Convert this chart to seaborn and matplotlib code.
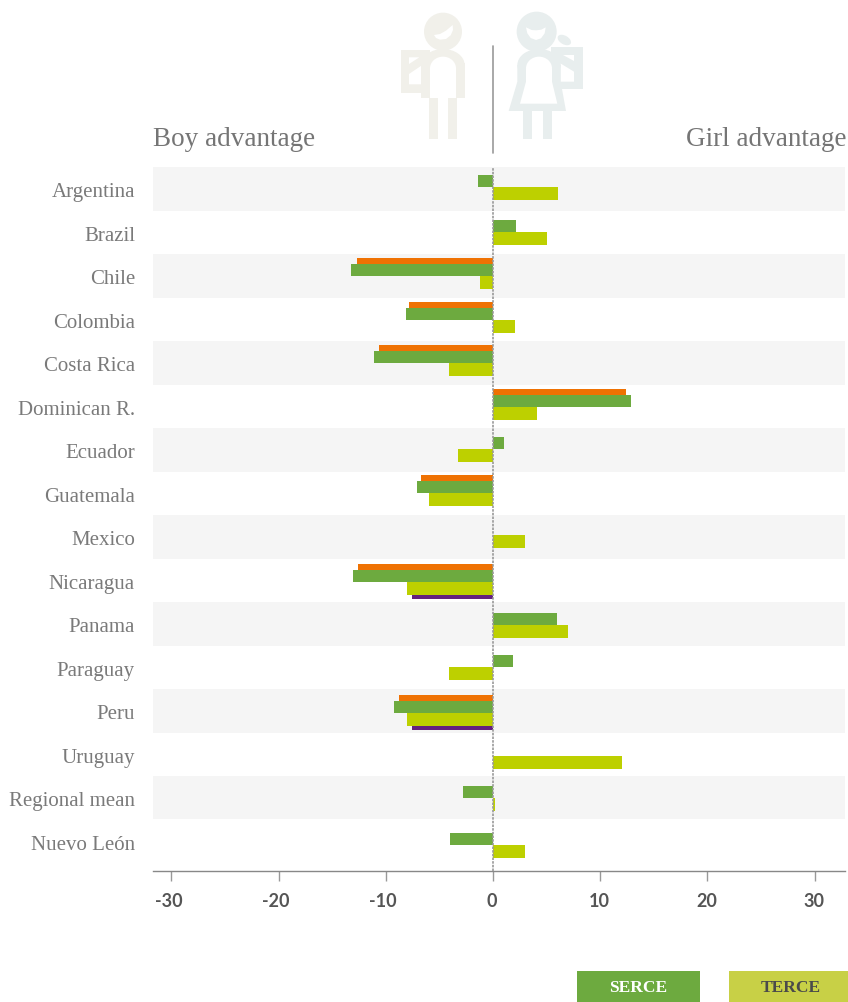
import matplotlib
matplotlib.use('Agg')
import matplotlib.pyplot as plt
from matplotlib.patches import Circle, Ellipse, Polygon, Rectangle
from matplotlib.transforms import ScaledTranslation
import numpy as np
import pandas as pd
import seaborn as sn

countries = ['Argentina', 'Brazil', 'Chile', 'Colombia', 'Costa Rica', 'Dominican R.', 'Ecuador', 'Guatemala',
             'Mexico', 'Nicaragua', 'Panama', 'Paraguay', 'Peru', 'Uruguay', 'Regional mean', 'Nuevo León']
nan = float('nan')
orange_vals = [nan, nan, -12.7, -7.8, -10.65, 12.4, nan, -6.7, nan, -12.6, nan, nan, -8.8, nan, nan, nan]
green_vals = [-1.4, 2.1, -13.2, -8.1, -11.1, 12.9, 1.0, -7.1, nan, -13.1, 6.0, 1.9, -9.25, nan, -2.8, -4.0]
yellow_vals = [6.1, 5.0, -1.2, 2.05, -4.1, 4.1, -3.3, -6.0, 3.0, -8.0, 7.0, -4.1, -8.0, 12.0, 0.2, 3.0]
purple_vals = [nan, nan, nan, nan, nan, nan, nan, nan, nan, -7.6, nan, nan, -7.6, nan, nan, nan]
xticks = [-30, -20, -10, 0, 10, 20, 30]

sn.set_theme(style='white')
plt.rcParams['font.family'] = ['Liberation Serif', 'DejaVu Serif']

W, H = 848, 1002
ROW = 43.5  # px per row
fig = plt.figure(figsize=(W/100, H/100), dpi=100)
ax = fig.add_axes([153/W, 1-871/H, 692/W, 704/H])

# row stripes behind the bars
for i in range(0, len(countries), 2):
    ax.axhspan(i-0.5, i+0.5, color='#F5F5F5', lw=0, zorder=0)

pos = np.arange(len(countries))
# the bars don't sit evenly in their rows in the original, px nudge per row
row_nudge = np.array([-2, -0.5, 0, 0.5, 0, 0.5, -1, -0.5, -1.5, 1.5, 1, -0.5, 2, 2, 0, 3.5])/ROW

# order matters, green and yellow sit on top of orange and purple
for vals, off, hgt, col in [(orange_vals, -12, 12, '#EF7203'), (purple_vals, 11.5, 12, '#64207F'),
                            (green_vals, -6, 12, '#6DAA3F'), (yellow_vals, 6.5, 13, '#BDD000')]:
    ypos = pos+row_nudge+off/ROW
    df = pd.DataFrame({'val': vals, 'pos': ypos})
    # native scale divides by the smallest gap between positions
    sn.barplot(data=df, x='val', y='pos', orient='y', native_scale=True, width=(hgt/ROW)/np.diff(ypos).min(),
               color=col, saturation=1, linewidth=0, ax=ax, zorder=2)

ax.axvline(0, color='#999999', lw=1.2, ls=(0, (1.5, 0.7)), zorder=3)
ax.set_xlim((153-493)/10.72, (845-493)/10.72)
ax.set_ylim((871-167)/ROW-0.5, -0.5)
ax.set_xlabel('')
ax.set_ylabel('')
ax.set_yticks(pos)
ax.set_yticklabels(countries, fontsize=15, color='#7A7A7A')
ax.set_xticks(xticks)
ax.set_xticklabels(xticks, fontsize=13, fontweight='bold', family='Lato', color='#555555')
ax.tick_params(axis='y', length=0, pad=13)
ax.tick_params(axis='x', length=7, width=1, color='#999999', pad=9, bottom=True)
for s in ['top', 'left', 'right']:
    ax.spines[s].set_visible(False)
ax.spines['bottom'].set_color('#888888')
ax.spines['bottom'].set_linewidth(1)

# tick labels sit a bit left of their ticks
for v, lab in zip(xticks, ax.get_xticklabels()):
    shift = -3 if v < 0 else -1
    lab.set_transform(lab.get_transform()+ScaledTranslation(shift/100, 0, fig.dpi_scale_trans))
for lab in ax.get_yticklabels():
    lab.set_transform(lab.get_transform()+ScaledTranslation(0, -1.5/100, fig.dpi_scale_trans))

# overlay in pixel coords for icons, headings and legend
ov = fig.add_axes([0, 0, 1, 1], facecolor='none')
ov.set_xlim(0, W)
ov.set_ylim(H, 0)
ov.axis('off')

def zx(v):
    return 380+v/3

def zy(v):
    return v/3

def zrect(x0, y0, x1, y1, col):
    ov.add_patch(Rectangle((zx(x0), zy(y0)), (x1-x0)/3, (y1-y0)/3, color=col, lw=0))

def zpoly(pts, col):
    ov.add_patch(Polygon([(zx(a), zy(b)) for a, b in pts], closed=True, color=col, lw=0))

boy = '#F1F0EA'
girl = '#E8EEEE'

# boy icon
ov.add_patch(Circle((zx(189), zy(95)), 19, color=boy, lw=0))
zpoly([(162, 105), (180, 102), (198, 92), (218, 75), (219, 90), (212, 106), (198, 117), (180, 119), (168, 114)], 'white')
zrect(62, 150, 150, 278, boy)
zpoly([(87, 172), (118, 172), (87, 192)], 'white')
zpoly([(87, 222), (124, 197), (124, 253), (87, 253)], 'white')
zrect(124, 190, 254, 293, boy)
ov.add_patch(Ellipse((zx(189), zy(195)), 130/3, 96/3, color=boy, lw=0))
ov.add_patch(Ellipse((zx(189), zy(205)), 78/3, 70/3, color='white', lw=0))
zrect(150, 205, 228, 293, 'white')
zrect(147, 293, 174, 416, boy)
zrect(204, 293, 231, 416, boy)

# girl icon
ov.add_patch(Circle((zx(470), zy(95)), 20, color=girl, lw=0))
zpoly([(438, 82), (455, 90), (468, 91), (484, 89), (497, 82), (494, 100), (483, 115), (468, 120), (452, 114), (442, 100)], 'white')
ov.add_patch(Ellipse((zx(553), zy(120)), 44/3, 26/3, angle=30, color=girl, lw=0))
zrect(513, 142, 608, 268, girl)
zpoly([(541, 190), (582, 215), (582, 245), (541, 245)], 'white')
zpoly([(548, 165), (582, 165), (582, 182)], 'white')
ov.add_patch(Ellipse((zx(477), zy(195)), 130/3, 96/3, color=girl, lw=0))
zpoly([(412, 195), (542, 195), (542, 245), (558, 333), (386, 333), (412, 245)], girl)
ov.add_patch(Ellipse((zx(477), zy(205)), 78/3, 70/3, color='white', lw=0))
zpoly([(438, 205), (516, 205), (516, 245), (532, 311), (420, 311), (438, 245)], 'white')
zrect(428, 333, 456, 416, girl)
zrect(489, 333, 516, 416, girl)

# centre line above the plot
ov.plot([zx(339), zx(339)], [46, 153], color='#999999', lw=1.2)

ov.text(153, 139, 'Boy advantage', fontsize=19.5, color='#757575', ha='left', va='center')
ov.text(846, 139, 'Girl advantage', fontsize=19.5, color='#757575', ha='right', va='center')

# legend boxes
ov.add_patch(Rectangle((577, 971), 123, 31, color='#6DAA3F', lw=0))
ov.add_patch(Rectangle((729, 971), 119, 31, color='#C8D046', lw=0))
ov.text(638.5, 987.5, 'SERCE', fontsize=12.5, fontweight='bold', color='white', ha='center', va='center')
ov.text(790.5, 987.5, 'TERCE', fontsize=12.5, fontweight='bold', color='#4A4A4A', ha='center', va='center')

fig.savefig('out.png', dpi=100)
